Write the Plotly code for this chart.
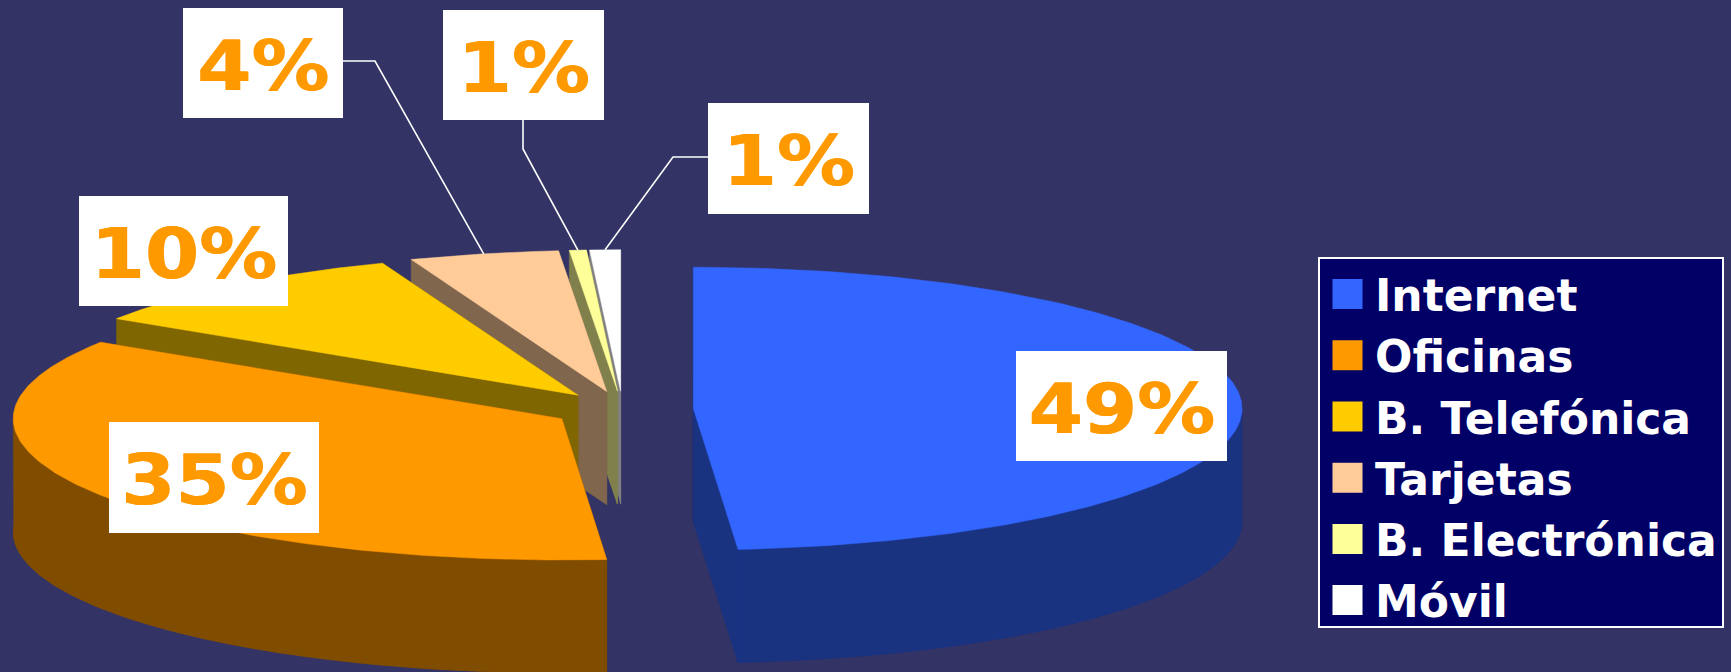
import numpy as np
import plotly.graph_objects as go

# ---- data ----
categories = ["Internet", "Oficinas", "B. Telefónica", "Tarjetas", "B. Electrónica", "Móvil"]
values = [48.7, 35.4, 10.1, 4.4, 0.5, 0.9]
labels = ["49%", "35%", "10%", "4%", "1%", "1%"]
top_colors = ["#3366FF", "#FF9900", "#FFCC00", "#FFCC99", "#FFFF99", "#FFFFFF"]
side_colors = ["#1A3380", "#804D00", "#806600", "#80664D", "#80804D", "#808080"]

# ---- projection of the 3D pie (in pixels of the axes) ----
CX, CY = 622.6, 409.3
RX, RY = 548.7, 141.3
DEPTH = 113
EXPLODE = 0.129
BG = "#333366"

# label boxes: x0, y0, x1, y1
label_boxes = [(1016, 351, 1227, 461), (109, 422, 319, 533), (79, 196, 288, 306),
               (183, 8, 343, 118), (443, 10, 604, 120), (708, 103, 869, 214)]
# leader lines: points from the box to the elbow; the end lies on the slice rim
leaders = {3: [(343, 61), (375, 61)], 4: [(523, 120), (523, 149)], 5: [(708, 157), (673, 157)]}

frac = np.array(values) / sum(values)
ends = np.cumsum(frac) * 2 * np.pi
starts = ends - frac * 2 * np.pi
mids = (starts + ends) / 2


def apex(i):
    return (CX + EXPLODE * RX * np.sin(mids[i]), CY - EXPLODE * RY * np.cos(mids[i]))


def rim(i, t):
    ax, ay = apex(i)
    return ax + RX * np.sin(t), ay - RY * np.cos(t)


def poly(xs, ys, color):
    xs, ys = list(xs), list(ys)
    return go.Scatter(x=xs + [xs[0]], y=ys + [ys[0]], mode="lines", fill="toself",
                      fillcolor=color, line=dict(color=color, width=0.5),
                      hoverinfo="skip", showlegend=False)


fig = go.Figure()
for i in [0, 5, 4, 3, 2, 1]:
    ax, ay = apex(i)
    t = np.linspace(starts[i], ends[i], 181)
    rx, ry = rim(i, t)
    sx = [ax] + list(rx)
    sy = [ay] + list(ry)
    side = side_colors[i]
    # bottom face and the two cut faces
    fig.add_trace(poly(sx, [v + DEPTH for v in sy], side))
    fig.add_trace(poly([ax, rx[0], rx[0], ax], [ay, ry[0], ry[0] + DEPTH, ay + DEPTH], side))
    fig.add_trace(poly([ax, rx[-1], rx[-1], ax], [ay, ry[-1], ry[-1] + DEPTH, ay + DEPTH], side))
    # outer wall: only the front half of the rim is visible
    lo, hi = max(starts[i], np.pi / 2), min(ends[i], 3 * np.pi / 2)
    if hi > lo:
        tf = np.linspace(lo, hi, 181)
        fx, fy = rim(i, tf)
        fig.add_trace(poly(list(fx) + list(fx[::-1]), list(fy) + list((fy + DEPTH)[::-1]), side))
    fig.add_trace(poly(sx, sy, top_colors[i]))

# leader lines
for i, pts in leaders.items():
    ex, ey = rim(i, mids[i])
    fig.add_trace(go.Scatter(x=[p[0] for p in pts] + [ex], y=[p[1] for p in pts] + [ey],
                             mode="lines", line=dict(color="#FFFFFF", width=1.6),
                             hoverinfo="skip", showlegend=False))

# legend entries
for i, name in enumerate(categories):
    fig.add_trace(go.Scatter(x=[None], y=[None], mode="markers", name=name, legendgroup=name,
                             marker=dict(symbol="square", size=16, color=top_colors[i],
                                         line=dict(color=top_colors[i], width=5))))

# percentage labels
for (x0, y0, x1, y1), text in zip(label_boxes, labels):
    fig.add_annotation(x=(x0 + x1) / 2, y=(y0 + y1) / 2, text=text, showarrow=False,
                       width=x1 - x0, height=y1 - y0, bgcolor="#FFFFFF", align="center", valign="middle",
                       borderwidth=0, borderpad=0,
                       font=dict(family="DejaVu Sans", size=69, color="#FF9900", weight=700,
                                 shadow="1px 0 0 #FF9900"))

fig.update_layout(
    width=1731, height=672, autosize=False,
    margin=dict(l=0, r=0, t=0, b=0),
    paper_bgcolor=BG, plot_bgcolor=BG,
    xaxis=dict(range=[0, 1731], visible=False, fixedrange=True),
    yaxis=dict(range=[672, 0], visible=False, fixedrange=True),
    showlegend=True,
    legend=dict(x=1318 / 1731, y=1 - 257 / 672, xanchor="left", yanchor="top",
                bgcolor="#000066", bordercolor="#FFFFFF", borderwidth=2, itemwidth=45,
                tracegroupgap=1, font=dict(family="DejaVu Sans", size=44, color="#FFFFFF", weight=700)),
)
post = """
document.body.style.margin='0';
document.querySelectorAll('.legend .legendpoints path.scatterpts').forEach(function(p){
  p.setAttribute('transform', (p.getAttribute('transform')||'') + ' scale(1.43)');
});
var lg = document.querySelector('.legend rect.bg');
if (lg) { lg.setAttribute('height', 369); lg.style.height = '369px'; }
document.querySelectorAll('.annotation text.annotation-text').forEach(function(t){
  var b = t.getBBox(), cx = b.x + b.width / 2, old = t.getAttribute('transform') || '';
  t.setAttribute('transform', old + ' translate(' + cx + ',3) scale(1.13,1) translate(' + (-cx) + ',0)');
});
"""
fig.write_html("out.html", post_script=post, config={"displayModeBar": False})
